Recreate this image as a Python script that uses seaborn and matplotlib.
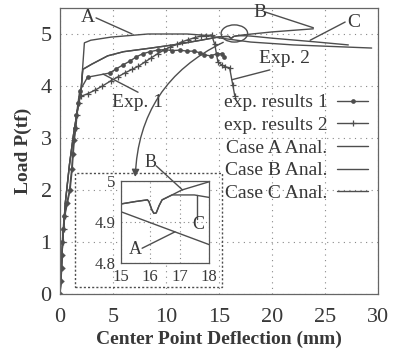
import matplotlib
matplotlib.use("Agg")
import matplotlib.pyplot as plt
import seaborn as sns
import pandas as pd
from matplotlib.patches import Ellipse, Rectangle

# ---------------- data ----------------
exp1_x = [0, 0.1, 0.15, 0.2, 0.22, 0.3, 0.4, 0.65, 0.9, 1.1, 1.2, 1.3, 1.45, 1.55, 1.7, 1.85,
          2.6, 4.7, 5.3, 5.9, 6.6, 7.2, 7.8, 8.5, 9.2, 9.9, 10.6, 11.3, 12.0, 12.6, 13.2, 13.6,
          14.2, 14.8, 15.3, 15.5]
exp1_y = [0, 0.25, 0.5, 0.75, 1.0, 1.25, 1.5, 1.75, 2.0, 2.4, 2.7, 2.96, 3.2, 3.44, 3.67, 3.9,
          4.17, 4.25, 4.33, 4.4, 4.48, 4.56, 4.62, 4.66, 4.69, 4.7, 4.68, 4.69, 4.67, 4.67, 4.64, 4.6,
          4.58, 4.62, 4.62, 4.56]

exp2_x = [0, 0.1, 0.15, 0.2, 0.25, 0.35, 0.45, 0.7, 0.95, 1.15, 1.25, 1.35, 1.5, 1.6, 1.75, 1.95,
          2.6, 3.3, 4.0, 4.8, 5.5, 6.1, 6.8, 7.4, 8.0, 8.6, 9.2, 9.8, 10.4, 11.0, 11.5, 12.1, 12.7,
          13.3, 13.8, 14.3, 14.6, 14.9, 15.3, 15.6, 16.0, 16.3, 16.5]
exp2_y = [0, 0.25, 0.5, 0.75, 1.0, 1.25, 1.5, 1.75, 2.0, 2.4, 2.7, 2.96, 3.2, 3.44, 3.67, 3.8,
          3.85, 3.92, 4.0, 4.1, 4.18, 4.25, 4.32, 4.38, 4.46, 4.54, 4.62, 4.69, 4.75, 4.8, 4.85,
          4.89, 4.93, 4.96, 4.97, 4.98, 4.8, 4.46, 4.4, 4.37, 4.35, 4.02, 3.8]

caseA_x = [0, 0.25, 0.5, 0.9, 1.3, 1.7, 2.0, 2.3, 2.9, 4.8, 8.3, 12, 14, 15, 18, 22, 29.4]
caseA_y = [0, 1.0, 1.75, 2.5, 3.1, 3.6, 3.95, 4.83, 4.88, 4.94, 5.0, 5.0, 4.97, 4.925, 4.845, 4.79, 4.73]

caseB_x = [0, 0.25, 0.5, 0.9, 1.3, 1.7, 2.0, 2.15, 3.0, 4.5, 6.0, 8.6, 11, 13, 15, 15.5, 15.9,
           15.95, 16.05, 16.12, 16.2, 16.3, 16.4, 16.74, 17.07, 18, 20, 23.9]
caseB_y = [0, 1.0, 1.75, 2.5, 3.1, 3.6, 3.95, 4.32, 4.42, 4.58, 4.66, 4.73, 4.8, 4.87, 4.944, 4.95,
           4.954, 4.95, 4.93, 4.921, 4.922, 4.94, 4.954, 4.966, 4.978, 4.998, 5.04, 5.1]

caseC_x = [0, 0.25, 0.5, 0.9, 1.3, 1.7, 2.0, 2.15, 3.0, 4.5, 6.0, 8.6, 11, 13, 15, 15.5, 15.9,
           15.95, 16.05, 16.12, 16.2, 16.3, 16.4, 16.74, 17.5, 18, 20, 24, 27.2]
caseC_y = [0, 1.0, 1.75, 2.5, 3.1, 3.6, 3.95, 4.32, 4.42, 4.58, 4.66, 4.73, 4.8, 4.87, 4.944, 4.95,
           4.954, 4.95, 4.93, 4.921, 4.922, 4.94, 4.954, 4.966, 4.966, 4.96, 4.92, 4.85, 4.79]

series_labels = ["exp. results 1", "exp. results 2", "Case A Anal.", "Case B Anal.", "Case C Anal."]
main_xticks = [0, 5, 10, 15, 20, 25, 30]
main_yticks = [0, 1, 2, 3, 4, 5]
inset_xticks = [15, 16, 17, 18]
inset_yticks = [4.8, 4.9, 5.0]
inset_yticklabels = ["4.8", "4.9", "5"]

# ---------------- style ----------------
sns.set_style("white")
plt.rcParams['font.family'] = ['Liberation Serif', 'DejaVu Serif']
LC = "#4e4e4e"
TC = "#383838"
plt.rcParams['text.color'] = TC
plt.rcParams['axes.labelcolor'] = TC
plt.rcParams['xtick.color'] = TC
plt.rcParams['ytick.color'] = TC

fig = plt.figure(figsize=(3.95, 3.49), dpi=100)
ax = fig.add_axes([60/395, 1-294/349, 318/395, 286/349])

frames = []
for name, xs, ys in [(series_labels[0], exp1_x, exp1_y), (series_labels[1], exp2_x, exp2_y),
                     (series_labels[2], caseA_x, caseA_y), (series_labels[3], caseB_x, caseB_y),
                     (series_labels[4], caseC_x, caseC_y)]:
    frames.append(pd.DataFrame({"x": xs, "y": ys, "series": name}))
df = pd.concat(frames, ignore_index=True)

def draw(axis, lw=1.0, legend=False):
    styles = {
        series_labels[0]: dict(marker="o", markersize=3.4, markeredgewidth=0),
        series_labels[1]: dict(marker="+", markersize=5, markeredgewidth=0.9),
        series_labels[2]: dict(),
        series_labels[3]: dict(),
        series_labels[4]: dict(),
    }
    for name in series_labels:
        sub = df[df["series"] == name]
        sns.lineplot(data=sub, x="x", y="y", ax=axis, sort=False, estimator=None,
                     color=LC, linewidth=lw, label=name if legend else None,
                     markeredgecolor=LC, **styles[name])

draw(ax, lw=1.0, legend=True)

ax.set_xlim(0, 30)
ax.set_ylim(0, 5.5)
ax.set_xticks(main_xticks)
ax.set_yticks(main_yticks)
ax.tick_params(direction="in", labelsize=16, length=3, pad=6, colors=TC)
ax.tick_params(axis="x", pad=10)
ax.grid(True, linestyle=(0, (1, 4)), color="#888888", linewidth=0.8)
for s in ax.spines.values():
    s.set_color("#666666")
    s.set_linewidth(0.9)
ax.set_xlabel("Center Point Deflection (mm)", fontsize=14, fontweight="bold", labelpad=3)
ax.set_ylabel("Load P(tf)", fontsize=14, fontweight="bold", labelpad=6)

leg = ax.legend(loc="upper left", bbox_to_anchor=(0.49, 0.727), frameon=False, markerfirst=False,
                fontsize=14, handlelength=1.6, handletextpad=0.5, labelspacing=0.26,
                borderaxespad=0)
for t in leg.get_texts():
    t.set_color(TC)

# annotations on main axes
akw = dict(color=LC, linewidth=1.0)
fs = 14
ax.text(2.64, 5.31, "A", fontsize=fs, ha="center", va="center")
ax.plot([3.4, 6.8], [5.31, 5.0], **akw)
ax.text(18.9, 5.41, "B", fontsize=fs, ha="center", va="center")
ax.plot([19.4, 23.9], [5.42, 5.12], **akw)
ax.text(27.7, 5.22, "C", fontsize=fs, ha="center", va="center")
ax.plot([26.9, 23.6], [5.23, 4.88], **akw)
ax.text(7.3, 3.68, "Exp. 1", fontsize=fs, ha="center", va="center")
ax.plot([4.06, 7.36], [4.23, 3.88], **akw)
ax.text(21.2, 4.52, "Exp. 2", fontsize=fs, ha="center", va="center")
ax.plot([19.8, 16.2], [4.31, 4.12], **akw)

ax.add_patch(Ellipse((16.45, 5.01), 2.5, 0.33, fill=False, edgecolor=LC, linewidth=1.0, zorder=5))
ax.annotate("", xy=(7.1, 2.25), xytext=(15.4, 4.84),
            arrowprops=dict(arrowstyle="-|>", color=LC, lw=1.0, mutation_scale=11,
                            connectionstyle="arc3,rad=0.3", shrinkA=0, shrinkB=0))
ax.add_patch(Rectangle((1.4, 0.13), 13.9, 2.2, fill=False, edgecolor=LC, linewidth=1.0,
                       linestyle=(0, (1.5, 1.5)), zorder=4))

# ---------------- inset ----------------
ins = fig.add_axes([121/395, 1-263/349, 88/395, 82/349])
draw(ins, lw=1.0, legend=False)
ins.set_xlim(15, 18)
ins.set_ylim(4.8, 5.0)
ins.set_xticks(inset_xticks)
ins.set_yticks(inset_yticks)
ins.set_yticklabels(inset_yticklabels)
ins.set_xlabel("")
ins.set_ylabel("")
ins.tick_params(direction="in", labelsize=12, length=2, pad=4, colors=TC)
ins.grid(True, linestyle=(0, (1, 3)), color="#888888", linewidth=0.8)
ins.patch.set_facecolor("white")
for s in ins.spines.values():
    s.set_color("#555555")
    s.set_linewidth(0.9)
ikw = dict(color=LC, linewidth=1.0, clip_on=False)
ifs = 13
ins.text(15.99, 5.045, "B", fontsize=ifs, ha="center", va="center")
ins.plot([16.2, 17.1], [5.037, 4.978], **ikw)
ins.text(17.63, 4.893, "C", fontsize=ifs, ha="center", va="center")
ins.plot([17.6, 17.6], [4.907, 4.966], **ikw)
ins.text(15.48, 4.832, "A", fontsize=ifs, ha="center", va="center")
ins.plot([15.72, 16.84], [4.836, 4.876], **ikw)

fig.savefig("out.png", dpi=100)
